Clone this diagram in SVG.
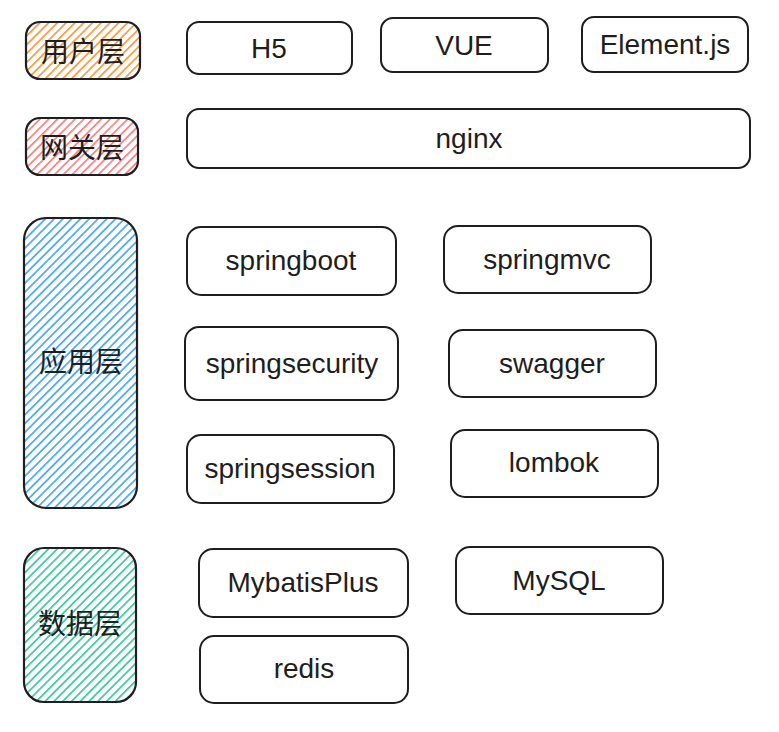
<svg xmlns="http://www.w3.org/2000/svg" width="779" height="732" viewBox="0 0 779 732">
<defs>
<style>
.box{fill:none;stroke:#1e1e1e;stroke-width:2}
.layer{stroke:#1e1e1e;stroke-width:2.2}
.t{font-family:"Liberation Sans","Noto Sans",sans-serif;font-size:28px;fill:#1e1e1e;text-anchor:middle;dominant-baseline:central}
.c{font-family:"Noto Sans CJK SC","Noto Sans",sans-serif;font-size:28px;fill:#1e1e1e;text-anchor:middle;dominant-baseline:central}
</style>
<pattern id="hOrange" width="6.2" height="6.2" patternUnits="userSpaceOnUse" patternTransform="rotate(45)"><rect x="0" y="0" width="1.7" height="6.2" fill="#fd9a40"/></pattern>
<pattern id="hRed" width="6.2" height="6.2" patternUnits="userSpaceOnUse" patternTransform="rotate(45)"><rect x="0" y="0" width="1.7" height="6.2" fill="#ff7f7f"/></pattern>
<pattern id="hBlue" width="6.2" height="6.2" patternUnits="userSpaceOnUse" patternTransform="rotate(45)"><rect x="0" y="0" width="1.7" height="6.2" fill="#4aa8f5"/></pattern>
<pattern id="hGreen" width="6.2" height="6.2" patternUnits="userSpaceOnUse" patternTransform="rotate(45)"><rect x="0" y="0" width="1.7" height="6.2" fill="#3cc99c"/></pattern>
</defs>
<rect width="779" height="732" fill="#ffffff"/>
<g id="layer-user"><rect x="26" y="22" width="114" height="57" rx="14" fill="url(#hOrange)" class="layer"/><text x="83" y="50" class="c">用户层</text></g>
<g id="layer-gateway"><rect x="26" y="118" width="112" height="57" rx="14" fill="url(#hRed)" class="layer"/><text x="82" y="146" class="c">网关层</text></g>
<g id="layer-app"><rect x="24" y="218" width="113" height="290" rx="22" fill="url(#hBlue)" class="layer"/><text x="81" y="360" class="c">应用层</text></g>
<g id="layer-data"><rect x="24" y="548" width="112" height="154" rx="20" fill="url(#hGreen)" class="layer"/><text x="80" y="622" class="c">数据层</text></g>

<g id="n-h5"><rect x="187" y="22" width="165" height="52" rx="12" class="box"/><text x="269" y="48" class="t">H5</text></g>
<g id="n-vue"><rect x="381" y="18" width="167" height="54" rx="12" class="box"/><text x="464" y="45" class="t">VUE</text></g>
<g id="n-element"><rect x="582" y="17" width="166" height="55" rx="12" class="box"/><text x="665" y="44" class="t">Element.js</text></g>
<g id="n-nginx"><rect x="187" y="109" width="563" height="59" rx="12" class="box"/><text x="469" y="138" class="t">nginx</text></g>
<g id="n-springboot"><rect x="187" y="227" width="209" height="68" rx="14" class="box"/><text x="291" y="260" class="t">springboot</text></g>
<g id="n-springmvc"><rect x="444" y="226" width="207" height="67" rx="14" class="box"/><text x="547" y="259" class="t">springmvc</text></g>
<g id="n-springsecurity"><rect x="185" y="327" width="213" height="73" rx="14" class="box"/><text x="292" y="363" class="t">springsecurity</text></g>
<g id="n-swagger"><rect x="449" y="330" width="207" height="67" rx="14" class="box"/><text x="552" y="363" class="t">swagger</text></g>
<g id="n-springsession"><rect x="187" y="435" width="207" height="68" rx="14" class="box"/><text x="290" y="468" class="t">springsession</text></g>
<g id="n-lombok"><rect x="451" y="430" width="207" height="67" rx="14" class="box"/><text x="554" y="462" class="t">lombok</text></g>
<g id="n-mybatisplus"><rect x="199" y="549" width="209" height="68" rx="14" class="box"/><text x="303" y="582" class="t">MybatisPlus</text></g>
<g id="n-mysql"><rect x="456" y="547" width="207" height="67" rx="14" class="box"/><text x="559" y="580" class="t">MySQL</text></g>
<g id="n-redis"><rect x="200" y="636" width="208" height="67" rx="14" class="box"/><text x="304" y="668" class="t">redis</text></g>
<g id="connectors"/>
</svg>
